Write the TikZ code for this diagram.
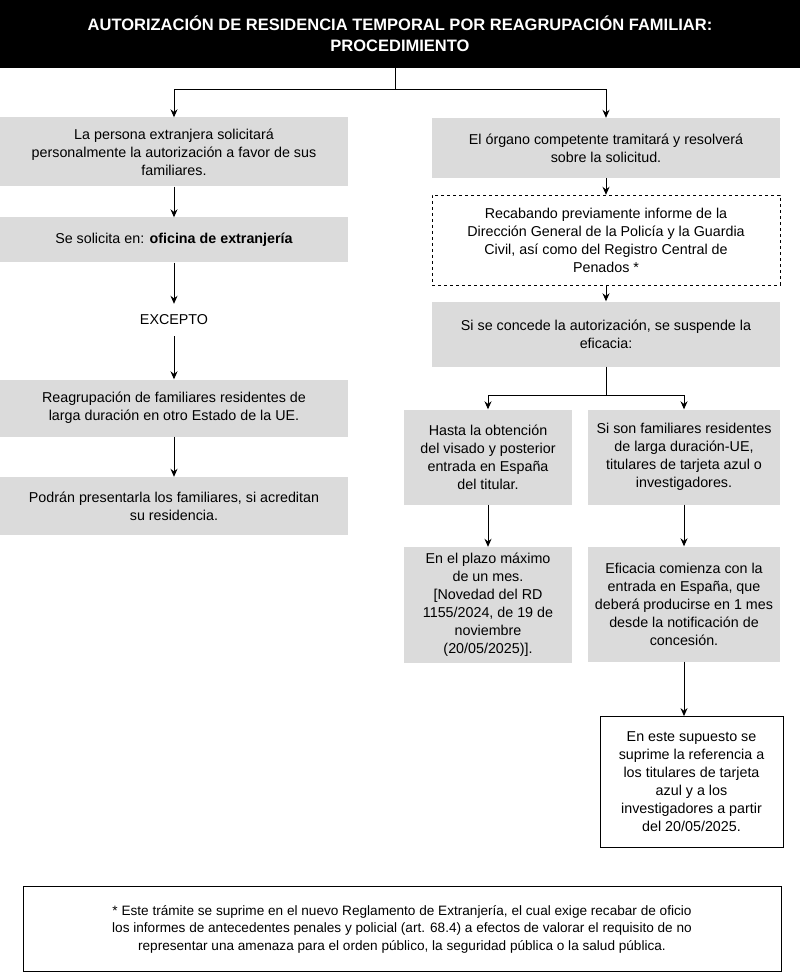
\documentclass[tikz,border=0pt]{standalone}
\usepackage{fontspec}
\setmainfont{Liberation Sans}
\usetikzlibrary{arrows.meta}
\begin{document}
\begin{tikzpicture}[x=1pt,y=-1pt,
  gbox/.style={fill=gray!28,draw=none,align=center,inner sep=0pt,font=\fontsize{14.3}{18}\selectfont},
  arr/.style={-{Stealth[length=8pt,width=7pt]},line width=1pt},
  ln/.style={line width=1pt}]
\useasboundingbox (0,0) rectangle (800,973);
\fill[white] (0,0) rectangle (800,973);
\node[fill=black,text=white,minimum width=800pt,minimum height=68pt,inner sep=0pt,align=center,font=\bfseries\fontsize{16.5}{21}\selectfont] (title) at (400,34) {AUTORIZACIÓN DE RESIDENCIA TEMPORAL POR REAGRUPACIÓN FAMILIAR:\\PROCEDIMIENTO};
% left
\node[gbox,minimum width=348pt,minimum height=69pt] (l1) at (174,152) {La persona extranjera solicitará\\personalmente la autorización a favor de sus\\familiares.};
\node[gbox,minimum width=348pt,minimum height=45pt] (l2) at (174,240) {Se solicita en: \textbf{oficina de extranjería}};
\node[align=center,inner sep=0pt,minimum height=32pt,font=\fontsize{14.3}{18}\selectfont] (ex) at (174,320) {EXCEPTO};
\node[gbox,minimum width=348pt,minimum height=57pt] (l3) at (174,408) {Reagrupación de familiares residentes de\\larga duración en otro Estado de la UE.};
\node[gbox,minimum width=348pt,minimum height=58pt] (l4) at (174,506) {Podrán presentarla los familiares, si acreditan\\su residencia.};
% right
\node[gbox,minimum width=348pt,minimum height=60pt] (r1) at (606,148) {El órgano competente tramitará y resolverá\\sobre la solicitud.};
\node[gbox,fill=white,draw=black,dashed,minimum width=348pt,minimum height=90pt] (r2) at (606,240) {Recabando previamente informe de la\\Dirección General de la Policía y la Guardia\\Civil, así como del Registro Central de\\Penados *};
\node[gbox,minimum width=348pt,minimum height=65pt] (r3) at (606,334) {Si se concede la autorización, se suspende la\\eficacia:};
\node[gbox,minimum width=168pt,minimum height=95pt] (a1) at (488,457) {Hasta la obtención\\del visado y posterior\\entrada en España\\del titular.};
\node[gbox,minimum width=192pt,minimum height=95pt] (b1) at (684,457) {Si son familiares residentes\\de larga duración-UE,\\titulares de tarjeta azul o\\investigadores.};
\node[gbox,minimum width=168pt,minimum height=116pt] (a2) at (488,605) {En el plazo máximo\\de un mes.\\{[}Novedad del RD\\1155/2024, de 19 de\\noviembre\\(20/05/2025)].};
\node[gbox,minimum width=192pt,minimum height=115pt] (b2) at (684,604) {Eficacia comienza con la\\entrada en España, que\\deberá producirse en 1 mes\\desde la notificación de\\concesión.};
\node[gbox,fill=white,draw=black,line width=0.8pt,minimum width=183pt,minimum height=131pt] (b3) at (691.5,782) {En este supuesto se\\suprime la referencia a\\los titulares de tarjeta\\azul y a los\\investigadores a partir\\del 20/05/2025.};
\node[draw=black,line width=0.8pt,minimum width=758pt,minimum height=85pt,align=center,inner sep=0pt,font=\fontsize{13.6}{17.5}\selectfont] (foot) at (402,929) {* Este trámite se suprime en el nuevo Reglamento de Extranjería, el cual exige recabar de oficio\\los informes de antecedentes penales y policial (art. 68.4) a efectos de valorar el requisito de no\\representar una amenaza para el orden público, la seguridad pública o la salud pública.};
% connectors
\coordinate (t0) at (395,90);
\draw[ln] (title.south -| t0) -- (t0);
\draw[arr] (t0) -| (l1.north);
\draw[arr] (t0) -| (r1.north);
\draw[arr] (l1) -- (l2);
\draw[arr] (l2) -- (ex);
\draw[arr] (ex) -- (l3);
\draw[arr] (l3) -- (l4);
\draw[arr] (r1) -- (r2);
\draw[arr] (r2) -- (r3);
\coordinate (s0) at (606,395);
\draw[ln] (r3.south) -- (s0);
\draw[arr] (s0) -| (a1.north);
\draw[arr] (s0) -| (b1.north);
\draw[arr] (a1) -- (a2);
\draw[arr] (b1) -- (b2);
\draw[arr] (b2.south) -- (b2.south |- b3.north);
\end{tikzpicture}
\end{document}
